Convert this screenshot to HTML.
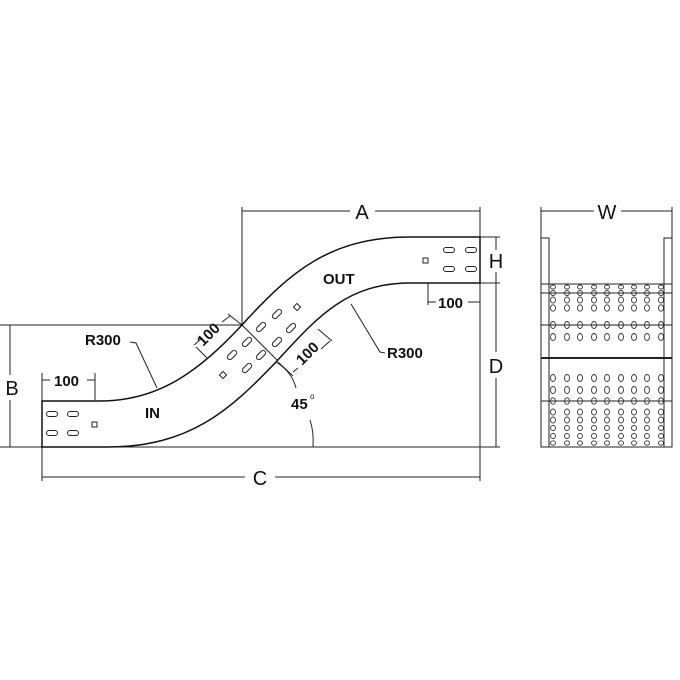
<!DOCTYPE html>
<html><head><style>
html,body{margin:0;padding:0;background:#fff}
svg{display:block}
text{font-family:"Liberation Sans",Arial,sans-serif;fill:#111}
</style></head><body>
<svg width="680" height="680" viewBox="0 0 680 680" xmlns="http://www.w3.org/2000/svg">
<g stroke="#222" fill="none" stroke-width="1">
<!-- dimension/extension lines -->
<line x1="242" y1="207" x2="242" y2="325"/>
<line x1="480" y1="207" x2="480" y2="481"/>
<line x1="242" y1="211" x2="350" y2="211"/><line x1="375" y1="211" x2="480" y2="211"/>
<line x1="0" y1="325" x2="242" y2="325"/>
<line x1="10" y1="325" x2="10" y2="375"/><line x1="10" y1="400" x2="10" y2="447"/>
<line x1="480" y1="237" x2="500" y2="237"/><line x1="480" y1="283" x2="500" y2="283"/>
<line x1="496" y1="237" x2="496" y2="250"/><line x1="496" y1="272" x2="496" y2="283"/>
<line x1="496" y1="283" x2="496" y2="352"/><line x1="496" y1="378" x2="496" y2="447"/>
<line x1="0" y1="447" x2="500" y2="447"/>
<line x1="42" y1="447" x2="42" y2="481"/>
<line x1="42" y1="477" x2="245" y2="477"/><line x1="275" y1="477" x2="480" y2="477"/>
<!-- left 100 -->
<line x1="42" y1="373" x2="42" y2="401"/><line x1="95" y1="373" x2="95" y2="400"/>
<line x1="42" y1="380" x2="50" y2="380"/><line x1="87" y1="380" x2="95" y2="380"/>
<!-- right 100 -->
<line x1="428" y1="283" x2="428" y2="305"/>
<line x1="428" y1="302" x2="436" y2="302"/><line x1="468" y1="302" x2="480" y2="302"/>
<!-- diagonal 100s -->
<line x1="242" y1="325" x2="228" y2="314"/><line x1="196" y1="347" x2="207" y2="358"/>
<line x1="194" y1="345" x2="201" y2="339"/><line x1="222" y1="322" x2="230" y2="316"/>
<line x1="278" y1="362" x2="293" y2="376"/><line x1="318" y1="329" x2="332" y2="341"/>
<line x1="293" y1="372" x2="298" y2="368"/><line x1="321" y1="349" x2="330" y2="341"/>
<line x1="242" y1="325" x2="278" y2="361"/>
<!-- R300 leaders -->
<path d="M130 342 L136 343 L157 388"/>
<path d="M385 353 L380 352 L351 304"/>
<!-- 45 arc -->
<path d="M276 362 Q292 372 296 388"/>
<path d="M310 420 Q314 432 313 447"/>
</g>
<!-- tray outline -->
<path d="M42 401 L100 401 C160 401 200 370 242 325 C290 272 330 237 410 237 L480 237 L480 283 L410 283 C345 283 315 320 276 362 C230 410 190 447 107 447 L42 447 Z" fill="none" stroke="#111" stroke-width="1.5"/>
<g fill="none" stroke="#222" stroke-width="1">
<rect x="46.5" y="411.5" width="11" height="5" rx="2.5"/><rect x="67.5" y="411.5" width="11" height="5" rx="2.5"/>
<rect x="46.5" y="430.5" width="11" height="5" rx="2.5"/><rect x="67.5" y="430.5" width="11" height="5" rx="2.5"/>
<rect x="92" y="422" width="5" height="5"/>
<rect x="443.5" y="247.5" width="11" height="5" rx="2.5"/><rect x="465.5" y="247.5" width="11" height="5" rx="2.5"/>
<rect x="443.5" y="266.5" width="11" height="5" rx="2.5"/><rect x="465.5" y="266.5" width="11" height="5" rx="2.5"/>
<rect x="423" y="258" width="5" height="5"/>
<g transform="rotate(-45 277 314)"><rect x="271.5" y="311.5" width="11" height="5" rx="2.5"/></g>
<g transform="rotate(-45 261 327)"><rect x="255.5" y="324.5" width="11" height="5" rx="2.5"/></g>
<g transform="rotate(-45 247 342)"><rect x="241.5" y="339.5" width="11" height="5" rx="2.5"/></g>
<g transform="rotate(-45 232 355)"><rect x="226.5" y="352.5" width="11" height="5" rx="2.5"/></g>
<g transform="rotate(-45 291 328)"><rect x="285.5" y="325.5" width="11" height="5" rx="2.5"/></g>
<g transform="rotate(-45 277 342)"><rect x="271.5" y="339.5" width="11" height="5" rx="2.5"/></g>
<g transform="rotate(-45 261 355)"><rect x="255.5" y="352.5" width="11" height="5" rx="2.5"/></g>
<g transform="rotate(-45 247 368)"><rect x="241.5" y="365.5" width="11" height="5" rx="2.5"/></g>
<g transform="rotate(45 297 307)"><rect x="294.5" y="304.5" width="5" height="5"/></g>
<g transform="rotate(45 223 375)"><rect x="220.5" y="372.5" width="5" height="5"/></g>
</g>
<!-- labels -->
<g font-weight="bold" font-size="15">
<text x="54" y="386">100</text>
<text x="438" y="308">100</text>
<text x="85" y="345">R300</text>
<text x="387" y="358">R300</text>
<text x="145" y="418">IN</text>
<text x="323" y="284">OUT</text>
<text x="291" y="409">45</text>
<text x="310" y="399" font-size="8" font-weight="normal">o</text>
<text transform="translate(212 338) rotate(-45)" text-anchor="middle">100</text>
<text transform="translate(311 357) rotate(-45)" text-anchor="middle">100</text>
</g>
<g font-size="20">
<text x="362" y="219" text-anchor="middle">A</text>
<text x="12" y="395" text-anchor="middle">B</text>
<text x="260" y="485" text-anchor="middle">C</text>
<text x="496" y="373" text-anchor="middle">D</text>
<text x="496" y="268" text-anchor="middle">H</text>
<text x="607" y="219" text-anchor="middle">W</text>
</g>
<!-- side view -->
<g stroke="#222" fill="none" stroke-width="1">
<line x1="541" y1="207" x2="541" y2="238"/><line x1="672" y1="207" x2="672" y2="238"/>
<line x1="541" y1="211" x2="594" y2="211"/><line x1="621" y1="211" x2="672" y2="211"/>
<rect x="541" y="238" width="8" height="209"/>
<rect x="664" y="238" width="8" height="209"/>
<line x1="541" y1="284" x2="672" y2="284"/>
<line x1="541" y1="293" x2="672" y2="293"/>
<line x1="541" y1="325" x2="672" y2="325"/>
<line x1="541" y1="358" x2="672" y2="358" stroke-width="2"/>
<line x1="541" y1="401" x2="672" y2="401"/>
<line x1="541" y1="447" x2="672" y2="447"/>
</g>
<g fill="none" stroke="#333" stroke-width="0.9">
<defs>
<g id="col">
<ellipse cx="0" cy="287" rx="2.5" ry="2"/>
<ellipse cx="0" cy="293" rx="2.5" ry="2.5"/>
<ellipse cx="0" cy="300" rx="2.5" ry="3"/>
<ellipse cx="0" cy="308" rx="2.5" ry="3.2"/>
<ellipse cx="0" cy="325" rx="2.5" ry="3.5"/>
<ellipse cx="0" cy="337" rx="2.5" ry="3.5"/>
<ellipse cx="0" cy="378" rx="2.5" ry="3.5"/>
<ellipse cx="0" cy="390" rx="2.5" ry="3.5"/>
<ellipse cx="0" cy="401" rx="2.5" ry="3.2"/>
<ellipse cx="0" cy="412" rx="2.5" ry="3"/>
<ellipse cx="0" cy="420" rx="2.5" ry="3"/>
<ellipse cx="0" cy="428" rx="2.5" ry="2.5"/>
<ellipse cx="0" cy="436" rx="2.5" ry="2.5"/>
<ellipse cx="0" cy="443" rx="2.5" ry="2.2"/>
</g>
</defs>
<use href="#col" x="553"/><use href="#col" x="567"/><use href="#col" x="580"/>
<use href="#col" x="594"/><use href="#col" x="607"/><use href="#col" x="621"/>
<use href="#col" x="634"/><use href="#col" x="647"/><use href="#col" x="661"/>
</g>
</svg>
</body></html>
